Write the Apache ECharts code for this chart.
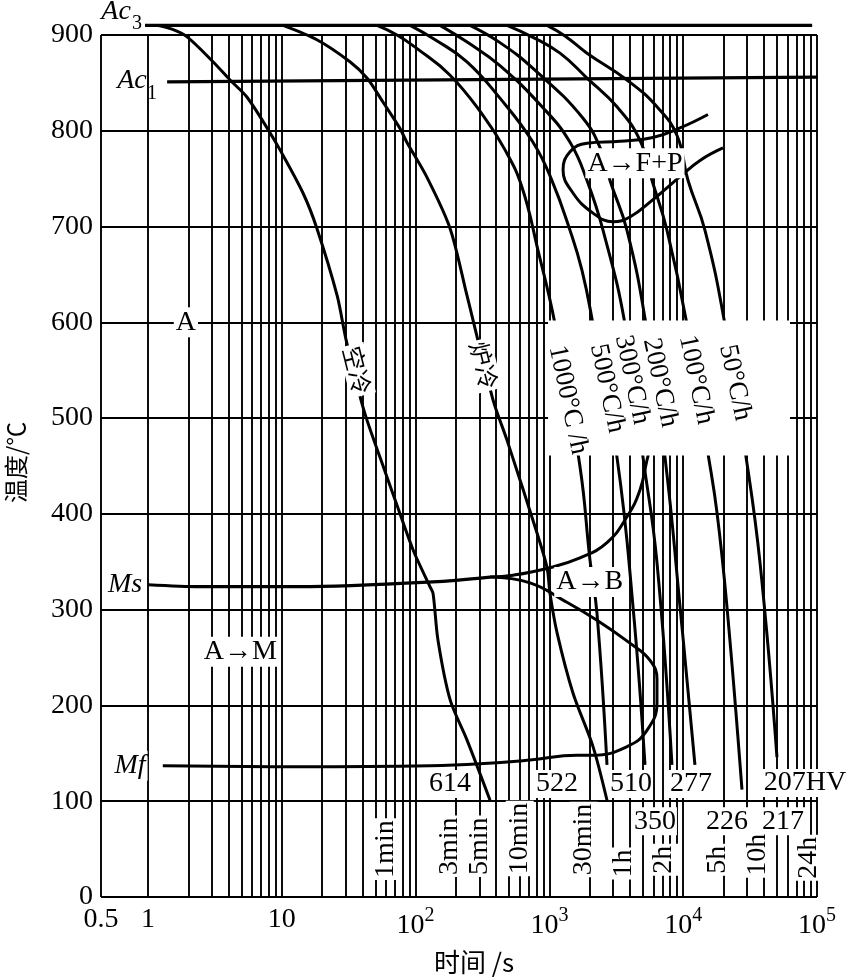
<!DOCTYPE html>
<html><head><meta charset="utf-8">
<script src="https://cdn.jsdelivr.net/npm/echarts@6/dist/echarts.min.js"></script>
<style>html,body{margin:0;padding:0;background:#fff}#c{width:850px;height:978px}</style>
</head><body><div id="c"></div>
<script>
// ---------- data (time in s, temperature in °C) ----------
const tempTicks = [0,100,200,300,400,500,600,700,800,900];
const ac3Line = [[0.95,910],[92000,910]];
const ac1Line = [[1.39,851],[100000,856]];
const msLine = [[1.0,326],[2.45,324],[13.7,324],[135,329],[360,334]];
const bainiteStart = [[360,334],[535,336],[960,343],[1694,354],[2694,370],[3802,397],[4754,425],[5360,456],[5650,469]];
const bainiteEndMf = [[360,334],[716,328],[1265,310],[2268,289],[4000,265],[5650,247],[6370,227],[6370,203],[5360,174],[3802,157],[2118,148],[1607,148],[716,143],[303,139],[128,137],[13.7,136],[1.29,137]];
const ferritePearlite = [[15320,817],[9470,803],[5945,793],[3372,789],[1910,787],[1426,778],[1265,759],[1500,735],[2118,714],[2987,705],[4000,710],[5945,728],[9470,752],[13360,769],[19830,782]];
const airCool = [[1.17,910],[1.51,906],[1.96,898],[3.06,872],[4.1,853],[5.5,835],[7.75,803],[9.7,780],[14.4,735],[18.3,698],[25.9,628],[30.2,582],[41.1,508],[54.2,459],[72.6,409],[96,362],[128,324],[135,317],[147,268],[181,206],[242,164],[360,101]];
const furnaceCool = [[10.2,910],[18.3,895],[32.3,872],[43.3,855],[57,830],[76,803],[86,788],[122,751],[181,698],[242,628],[379,519],[482,477],[808,380],[960,344],[1010,317],[1140,276],[1500,213],[2118,157],[2694,101]];
const rate1000 = [[51.5,910],[72.6,900],[102,886],[181,858],[319,816],[466,780],[624,741],[822,675],[1102,598],[1694,449],[2010,352],[2268,296],[2694,138]];
const rate500 = [[91,910],[140,895],[242,872],[427,834],[754,788],[1045,748],[1426,696],[1754,654],[2118,598],[3200,459],[4217,303],[5180,138]];
const rate300 = [[152,910],[246,892],[427,868],[896,824],[1426,788],[1910,748],[2518,696],[3673,598],[5010,459],[6370,349],[8240,138]];
const rate200 = [[255,910],[427,892],[754,865],[1783,813],[2518,775],[2838,748],[3802,696],[5270,598],[7310,459],[9470,303],[12240,138]];
const rate100 = [[482,910],[741,898],[1200,881],[1910,855],[3200,825],[4754,790],[5850,748],[7570,696],[10670,598],[15320,463],[17900,401],[21240,303],[27500,112]];
const rate50 = [[960,910],[1308,899],[1910,881],[3802,853],[6370,825],[8990,795],[10870,748],[14550,696],[20500,598],[28950,467],[37500,349],[50200,146]];
const rateLabels = ['1000°C /h','500°C/h','300°C/h','200°C/h','100°C/h','50°C/h'];
const hardnessLabels = ['614','522','510','350','277','226','217','207HV'];
const timeMarks = [60,180,300,600,1800,3600,7200,18000,36000,86400];
const timeMarkLabels = ['1min','3min','5min','10min','30min','1h','2h','5h','10h','24h'];

// ---------- layout / style ----------
const SERIF = 'Liberation Serif';
const CJK = 'Noto Sans CJK SC';
const XMIN = Math.pow(10, -0.3513);
const XMAX = 1e5;
const TOPT = 900;

const gridX = [];
for (let e = 0; e < 5; e++) for (let k = 1; k < 10; k++) gridX.push(k * Math.pow(10, e));
gridX.push(XMAX);
const gridLines = [];
gridLines.push([{coord:[XMIN,0]},{coord:[XMIN,TOPT]}]);
gridX.forEach(x => gridLines.push([{coord:[x,0]},{coord:[x,TOPT]}]));
tempTicks.forEach(y => gridLines.push([{coord:[XMIN,y]},{coord:[XMAX,y]}]));

function curve(name, data, w, smooth) {
  return { name, type:'line', data, z:3, symbol:'none', smooth: smooth === undefined ? 0.45 : smooth,
    lineStyle:{color:'#000', width:w, opacity:1}, silent:true, animation:false };
}
function lab(t, T, text, o) {
  o = o || {};
  return { value:[t,T], label:Object.assign({ show:true, position:'inside', formatter:text,
    fontFamily:SERIF, fontSize:28, color:'#000', opacity:1, textBorderWidth:0 }, o) };
}
const WB = { backgroundColor:'#ffffff', padding:[1,2] };

const labels = [];
labels.push(lab(0.577, 924, 'Ac', {fontStyle:'italic'}));
labels.push(lab(0.828, 912, '3', {fontSize:20}));
labels.push(lab(0.759, 852, 'Ac', {fontStyle:'italic'}));
labels.push(lab(1.07, 839, '1', {fontSize:20}));
labels.push(lab(0.673, 326, 'Ms', {fontStyle:'italic'}));
labels.push(lab(0.734, 137, 'Mf', Object.assign({fontStyle:'italic'}, WB)));
labels.push(lab(1.92, 600, 'A', WB));
labels.push(lab(4.9, 256, 'A→M', WB));
labels.push(lab(4360, 766, 'A→F+P', WB));
labels.push(lab(2000, 329, 'A→B', WB));
labels.push(lab(36.5, 550, '空冷', Object.assign({fontFamily:CJK, fontSize:24, rotate:-76}, WB)));
labels.push(lab(324, 555, '炉冷', Object.assign({fontFamily:CJK, fontSize:24, rotate:-76}, WB)));
const rateAnchors = [[1377,519],[2694,531],[4143,540],[6710,537],[12470,540],[24380,537]];
rateLabels.forEach((s,i) => labels.push(lab(rateAnchors[i][0], rateAnchors[i][1], s, {fontSize:27, rotate:-78})));
const hardAnchors = [[181,118],[1140,118],[4074,118],[6150,79],[11430,118],[21240,79],[55700,79],[81300,119]];
hardnessLabels.forEach((s,i) => labels.push(lab(hardAnchors[i][0], hardAnchors[i][1], s, Object.assign({}, WB, {padding:[0,1]}))));
const timeLabelT = [50,53,53,61,60,35,39,39,44,41];
timeMarkLabels.forEach((s,i) => labels.push(lab(timeMarks[i], timeLabelT[i], s, Object.assign({rotate:90}, WB, {padding:[0,2]}))));

const chart = echarts.init(document.getElementById('c'), null, {renderer:'canvas'});
chart.setOption({
  animation:false,
  backgroundColor:'#fff',
  grid:{left:101, right:33, top:15.8, bottom:81, containLabel:false, outerBoundsMode:'none'},
  xAxis:{
    type:'log', logBase:10, min:XMIN, max:XMAX,
    axisLine:{show:false}, axisTick:{show:false}, splitLine:{show:false}, minorSplitLine:{show:false},
    axisLabel:{ margin:9, fontFamily:SERIF, fontSize:28, color:'#000', showMinLabel:true, showMaxLabel:true,
      formatter:function(v){
        if (v < 0.9) return '0.5';
        const e = Math.round(Math.log10(v));
        if (e === 0) return '1';
        if (e === 1) return '10';
        return '{b|10}{s|' + e + '}';
      },
      rich:{ b:{fontFamily:SERIF, fontSize:28, color:'#000', lineHeight:34, verticalAlign:'bottom'},
             s:{fontFamily:SERIF, fontSize:20, color:'#000', lineHeight:18, verticalAlign:'top'} }
    },
    name:'时间 /s', nameLocation:'middle', nameGap:52,
    nameTextStyle:{fontFamily:CJK, fontSize:26, color:'#000', padding:[0,0,0,30]}
  },
  yAxis:{
    type:'value', min:0, max:920, interval:100,
    axisLine:{show:false}, axisTick:{show:false}, splitLine:{show:false},
    axisLabel:{margin:8, fontFamily:SERIF, fontSize:28, color:'#000',
      formatter:function(v){ return v > TOPT ? '' : String(v); }},
    name:'温度/℃', nameLocation:'middle', nameGap:73,
    nameTextStyle:{fontFamily:CJK, fontSize:24, color:'#000', padding:[0,12,0,0]}
  },
  series:[
    Object.assign(curve('Ac3', ac3Line, 3.4, false), {
      markLine:{ z:1, silent:true, symbol:['none','none'], animation:false, label:{show:false},
        lineStyle:{color:'#000', width:1.9, type:'solid', opacity:1}, emphasis:{disabled:true}, data:gridLines }
    }),
    curve('Ac1', ac1Line, 3.4, false),
    curve('Ms', msLine, 3.2, 0.3),
    curve('B start', bainiteStart, 3),
    curve('B end / Mf', bainiteEndMf, 3),
    curve('F+P', ferritePearlite, 3, 0.45),
    curve('空冷', airCool, 3, 0.3),
    curve('炉冷', furnaceCool, 3, 0.3),
    curve('1000', rate1000, 3),
    curve('500', rate500, 3),
    curve('300', rate300, 3),
    curve('200', rate200, 3),
    curve('100', rate100, 3),
    curve('50', rate50, 3),
    { type:'scatter', z:10, clip:false, silent:true, symbolSize:0, data:labels, animation:false,
      itemStyle:{opacity:1}, emphasis:{disabled:true},
      markArea:{ z:6, silent:true, label:{show:false}, itemStyle:{color:'#fff', opacity:1},
        data:[[{coord:[977,602]},{coord:[62800,461]}]] } }
  ]
});
</script></body></html>
